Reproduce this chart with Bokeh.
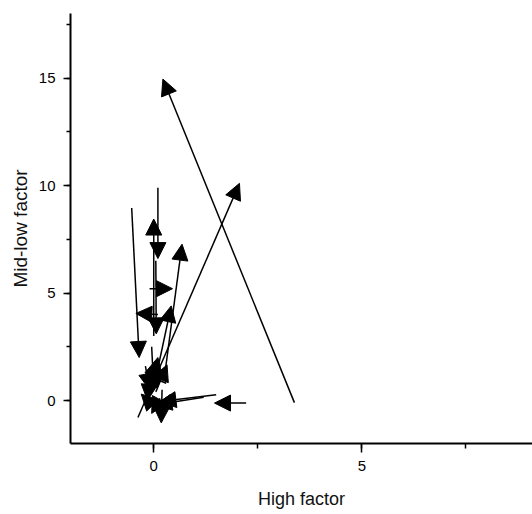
from bokeh.plotting import figure
from bokeh.models import Arrow, NormalHead, ColumnDataSource, Range1d, SingleIntervalTicker
from bokeh.embed import file_html
from bokeh.resources import INLINE

# Arrow start (tail) and end (head) coordinates: High factor (x), Mid-low factor (y)
x_start = [3.38, -0.38, 2.22, -0.53, 0.10, 0.00, 0.25, -0.10, 0.10, 0.10, 0.05,
           1.50, 1.20, 0.20, -0.20, 0.30, 0.00, -0.05, 0.05, 0.15, -0.10, 0.00]
y_start = [-0.10, -0.79, -0.12, 8.95, 9.90, 3.00, 1.00, 5.20, 4.00, 1.50, 6.50,
           0.27, 0.15, 0.50, 1.60, 0.80, -0.30, 2.50, 0.40, 0.10, 0.90, 1.20]
x_end = [0.22, 2.06, 1.46, -0.35, 0.10, 0.00, 0.68, 0.45, -0.43, 0.42, 0.06,
         0.15, 0.05, 0.18, -0.10, -0.20, -0.30, 0.00, 0.32, -0.05, -0.15, 0.10]
y_end = [14.95, 10.10, -0.12, 2.00, 6.60, 8.44, 7.27, 5.20, 4.05, 4.40, 3.10,
         -0.05, -0.20, -1.04, 0.50, 1.20, 0.30, 0.60, 1.66, -0.60, 0.00, 2.00]

x_ticks_interval = 5
y_ticks_interval = 5

src = ColumnDataSource(dict(x0=x_start, y0=y_start, x1=x_end, y1=y_end))

p = figure(width=532, height=512, output_backend="svg", toolbar_location=None,
           x_range=Range1d(-2, 9.1), y_range=Range1d(-2, 18),
           min_border_left=70, min_border_right=0, min_border_top=13, min_border_bottom=69)
p.outline_line_color = None
p.xgrid.visible = False
p.ygrid.visible = False
p.background_fill_color = "white"
p.border_fill_color = "white"

p.add_layout(Arrow(end=NormalHead(size=16, fill_color="black", line_color="black", line_width=1),
                   x_start="x0", y_start="y0", x_end="x1", y_end="y1",
                   source=src, line_color="black", line_width=1.5))

for ax, interval in ((p.xaxis, x_ticks_interval), (p.yaxis, y_ticks_interval)):
    ax.ticker = SingleIntervalTicker(interval=interval, num_minor_ticks=2)
    ax.axis_line_color = "black"
    ax.axis_line_width = 2
    ax.major_tick_line_color = "black"
    ax.minor_tick_line_color = "black"
    ax.major_tick_line_width = 1.5
    ax.minor_tick_line_width = 1.5
    ax.major_tick_in = 0
    ax.minor_tick_in = 0
    ax.major_label_text_font = "Liberation Sans"
    ax.major_label_text_font_size = "15px"
    ax.major_label_text_color = "black"
    ax.axis_label_text_font = "Liberation Sans"
    ax.axis_label_text_font_style = "normal"
    ax.axis_label_text_color = "#111111"

p.xaxis.axis_label = "High factor"
p.yaxis.axis_label = "Mid-low factor"
p.xaxis.axis_label_text_font_size = "18px"
p.yaxis.axis_label_text_font_size = "19px"
p.xaxis.major_tick_out = 9
p.xaxis.minor_tick_out = 5
p.yaxis.major_tick_out = 7
p.yaxis.minor_tick_out = 4
p.xaxis.major_label_standoff = 8
p.yaxis.major_label_standoff = 8
p.xaxis.axis_label_standoff = 15
p.yaxis.axis_label_standoff = 5

open("out.html", "w").write(file_html(p, INLINE))
